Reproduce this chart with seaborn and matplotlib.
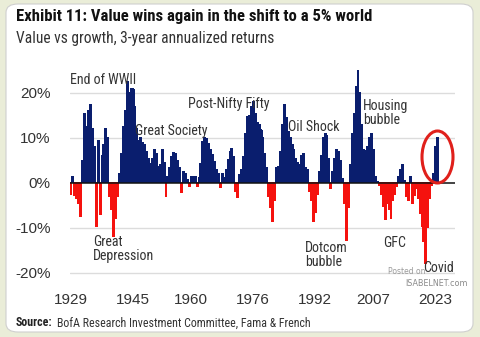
import numpy as np
import pandas as pd
import matplotlib
matplotlib.use("Agg")
import matplotlib.pyplot as plt
from matplotlib.patches import FancyBboxPatch, Ellipse
from matplotlib import font_manager
import seaborn as sns

# ---- data: value vs growth, 3-year annualized returns (%), half-yearly from 1929.0 ----
vals_1929_1944 = [-2.5, 1.5, -2.8, -3.5, -4.5, -7.4, 5.0, 15.5, 12.5, 16.0, 17.5, 12.0,
                  8.0, -9.7, 9.5, -7.0, 6.0, 8.5, 12.0, 10.0, -3.0, -6.0, -12.0, -8.0,
                  -3.0, 2.0, 6.5, 12.5, 16.0, 22.5, 20.0, 21.0]
vals_1945_1960 = [21.0, 17.0, 12.0, 9.5, 10.0, 9.0, 8.5, 7.0, 5.5, 4.4, 5.5, 7.5,
                  6.5, 3.7, 4.0, 7.5, 4.5, -3.0, 1.5, 3.5, 5.9, 6.7, 6.5, 5.0,
                  3.5, -2.2, 2.5, 2.0, 0.8, -0.8, 1.5, 1.5]
vals_1961_1977 = [1.4, -0.8, 1.2, 4.4, 9.2, 10.0, 9.8, 8.8, 7.5, 6.4, 4.8, 2.9,
                  2.2, -0.9, 2.0, 1.2, 2.9, 5.1, 6.9, 7.7, 5.9, -2.0, -3.3, 1.8,
                  2.9, 5.9, 11.0, 14.7, 15.0, 17.0, 18.0, 15.5, 13.5, 13.0]
vals_1978_1993 = [11.8, 10.0, 6.5, 3.5, -3.0, -5.5, -8.5, -4.0, 3.5, 3.7, 7.0, 13.0,
                  17.5, 14.5, 11.5, 10.0, 8.5, 7.5, 5.5, 4.5, 4.0, 6.0, 6.5, 3.5,
                  3.0, -2.0, -4.0, -8.5, -6.5, -2.5, 2.5, 6.0]
vals_1994_2010 = [10.0, 11.0, 10.5, 5.5, -1.2, 2.5, 5.5, 7.5, 7.0, 5.0, 1.0, -4.5,
                  -12.7, -5.5, 4.0, 11.0, 15.5, 21.5, 25.0, 20.0, 13.0, 7.5, 7.3, 8.0,
                  10.0, 11.0, 7.5, 1.4, 0.3, -0.6, -2.5, -5.3, -8.2, -4.5]
vals_2011_2023 = [-6.0, -8.0, -4.0, -2.5, -0.8, 1.5, 3.0, 4.0, 0.5, -3.0, -3.8, 1.5,
                  -4.5, -2.8, -1.2, -3.5, -6.7, -9.7, -13.0, -17.8, -10.0, -3.5, -0.5, 2.0,
                  8.0, 10.0]

values = vals_1929_1944 + vals_1945_1960 + vals_1961_1977 + vals_1978_1993 + vals_1994_2010 + vals_2011_2023
periods = 1929 + 0.5 * np.arange(len(values))   # half-year periods

tick_years = [1929, 1945, 1960, 1976, 1992, 2007, 2023]
y_ticks = [-20, -10, 0, 10, 20]
y_tick_labels = ["-20%", "-10%", "0%", "10%", "20%"]

NAVY = "#0a1e6e"
RED = "#f5120e"

df = pd.DataFrame({"period": periods, "value": values})
df["sign"] = np.where(df["value"] >= 0, "pos", "neg")
order = list(df["period"])

# ---- fonts ----
avail = {f.name for f in font_manager.fontManager.ttflist}
def pick(*names):
    for n in names:
        if n in avail:
            return n
    return "DejaVu Sans"
COND = pick("Liberation Sans Narrow", "Roboto Condensed", "Open Sans Condensed", "Liberation Sans")
TICK = pick("Liberation Sans", "Open Sans", "Lato")

sns.set_theme(style="white")
plt.rcParams["font.family"] = [COND, "DejaVu Sans"]

W, H = 480, 337
fig = plt.figure(figsize=(W / 100, H / 100), dpi=100)
fig.patch.set_facecolor("#eaedd8")

def fx(px):
    return px / W
def fy(py):
    return 1 - py / H

panel = FancyBboxPatch((fx(6), fy(332)), fx(473) - fx(6), fy(4) - fy(332),
                       boxstyle="round,pad=0,rounding_size=0.025",
                       transform=fig.transFigure, facecolor="white",
                       edgecolor="#cfcfcf", linewidth=0.8, zorder=-10)
fig.patches.append(panel)

ax = fig.add_axes([fx(70), fy(282), fx(455) - fx(70), fy(65) - fy(282)])
ax.set_zorder(1)
ax.set_facecolor("none")

sns.barplot(data=df, x="period", y="value", hue="sign", order=order,
            palette={"pos": NAVY, "neg": RED}, saturation=1,
            dodge=False, width=1.0, legend=False, ax=ax, errorbar=None)
# make the bars contiguous (one full category slot each), no seams
for p in ax.patches:
    c = p.get_x() + p.get_width() / 2
    p.set_x(c - 0.5)
    p.set_width(1.0)
    p.set_linewidth(0)
    p.set_antialiased(False)
    p.set_snap(False)

ax.set_xlim(-0.5, 198)
ax.set_ylim(-22, 26.2)
ax.set_yticks(y_ticks)
ax.set_yticklabels(y_tick_labels)
ax.set_xticks([order.index(float(y)) for y in tick_years])
ax.set_xticklabels([str(y) for y in tick_years])
ax.tick_params(axis="both", length=0, labelsize=11, colors="#333333")
ax.tick_params(axis="y", pad=14)
ax.tick_params(axis="x", pad=8)
for lab in ax.get_yticklabels() + ax.get_xticklabels():
    lab.set_fontfamily([TICK, "DejaVu Sans"])
ax.set_xlabel("")
ax.set_ylabel("")
for s in ax.spines.values():
    s.set_visible(False)
for yv in [-20, -10, 10, 20]:
    ax.axhline(yv, color="#dcdcdc", lw=1.0, zorder=0)
ax.axhline(0, color="#111111", lw=1.1, zorder=3)

# annotations
def ann(x_px, y_px, s, ha="left"):
    fig.text(fx(x_px), fy(y_px), s, ha=ha, va="center", fontsize=10,
             color="#333333", family=[COND, "DejaVu Sans"], linespacing=1.05,
             zorder=6)

ann(70, 80, "End of WWII")
ann(135, 131, "Great Society")
ann(188, 104, "Post-Nifty Fifty")
ann(288, 127, "Oil Shock")
ann(363, 113, "Housing\nbubble")
ann(93, 249, "Great\nDepression")
ann(305, 255, "Dotcom\nbubble")
ann(383, 243, "GFC")
ann(423, 268, "Covid")

ell = Ellipse((fx(437.5), fy(157)), fx(31), 52 / H, transform=fig.transFigure,
              fill=False, edgecolor="#e0201b", lw=2.2, zorder=5)
fig.patches.append(ell)

# titles
fig.text(fx(16), fy(16), "Exhibit 11: Value wins again in the shift to a 5% world",
         ha="left", va="center", fontsize=12, fontweight="bold", color="#111111",
         family=[COND, "DejaVu Sans"])
fig.text(fx(16), fy(38), "Value vs growth, 3-year annualized returns",
         ha="left", va="center", fontsize=11.2, color="#333333",
         family=[COND, "DejaVu Sans"])

# source
t1 = fig.text(fx(16), fy(323), "Source:", ha="left", va="center", fontsize=8.6,
              fontweight="bold", color="#222222", family=[COND, "DejaVu Sans"])
fig.canvas.draw()
bb = t1.get_window_extent()
fig.text(bb.x1 / W + fx(4), fy(323), "BofA Research Investment Committee, Fama & French",
         ha="left", va="center", fontsize=8.6, color="#333333",
         family=[COND, "DejaVu Sans"])

# watermark
fig.text(fx(388), fy(272), "Posted on", ha="left", va="center", fontsize=5.5,
         color="#9a9a9a", family=["DejaVu Sans"], zorder=6)
fig.text(fx(405), fy(284), "ISABELNET.com", ha="left", va="center", fontsize=5.8,
         color="#8a8a8a", family=["DejaVu Sans"], zorder=6)

fig.savefig("out.png", dpi=100, facecolor=fig.get_facecolor())
